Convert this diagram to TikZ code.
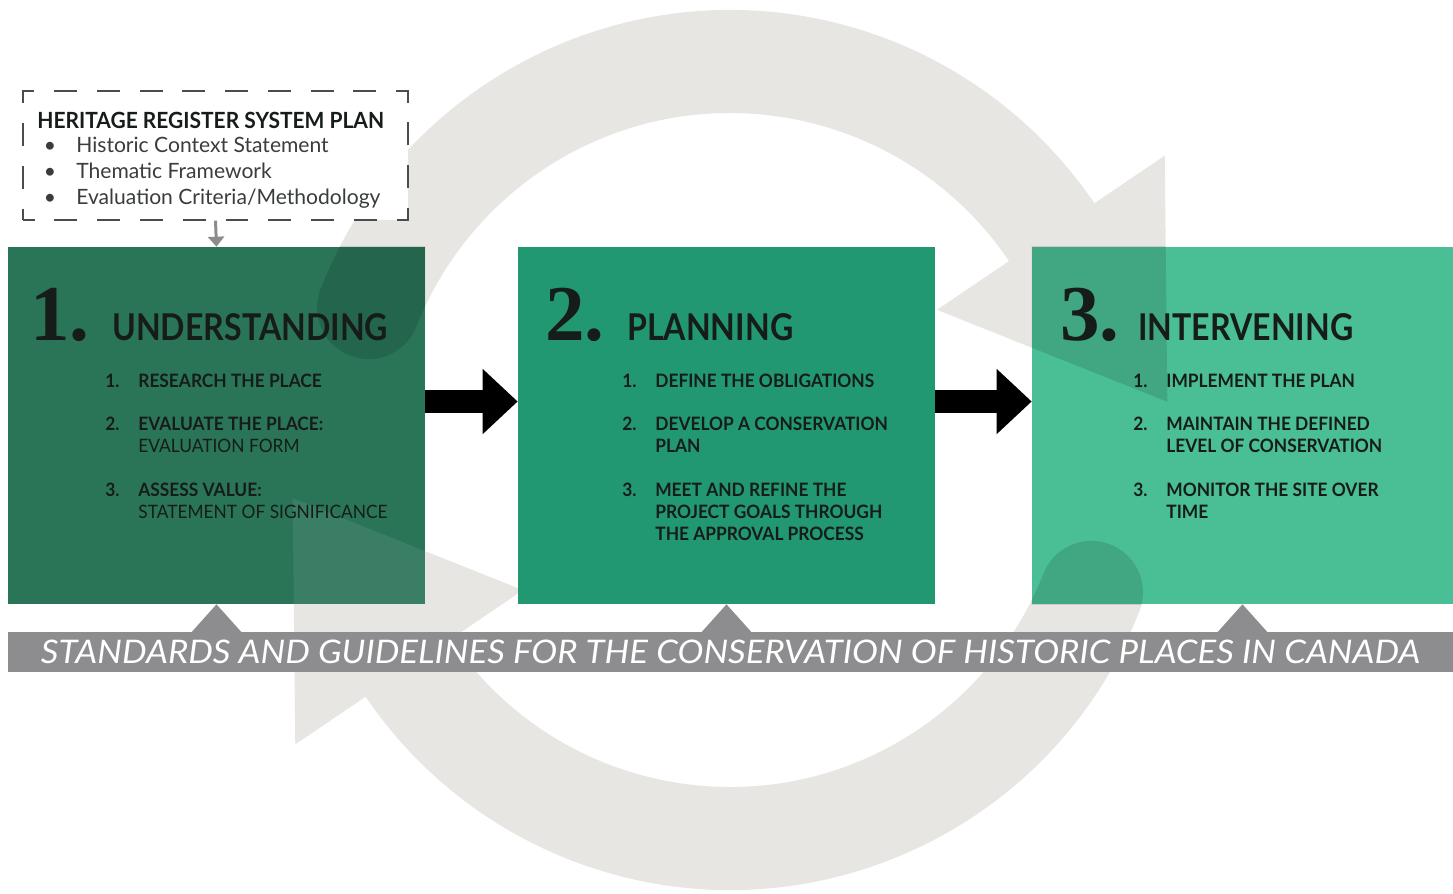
\documentclass[tikz,border=0pt]{standalone}
\usepackage{fontspec}
\setmainfont{Lato}
\newfontfamily\numfont{Liberation Serif}
\newfontfamily\titlefont[FakeStretch=0.87]{Lato}
\newfontfamily\itemfont[FakeStretch=0.94]{Lato}
\usetikzlibrary{arrows.meta}

\definecolor{stageone}{RGB}{42,117,88}
\definecolor{stagetwo}{RGB}{33,152,113}
\definecolor{stagethree}{RGB}{74,190,148}
\definecolor{ringgray}{RGB}{232,230,227}
\definecolor{bargray}{RGB}{141,141,144}
\definecolor{ink}{RGB}{22,28,25}

\tikzset{
  ringarrow/.style={insert path={(-158.5:440) arc[start angle=-158.5, end angle=-34.1, radius=440]
      -- (-34.1:525) -- (-6.3:440) -- (-34.1:250) -- (-34.1:337)
      arc[start angle=-34.1, end angle=-158.5, radius=337]
      arc[start angle=21.5, end angle=201.5, radius=51.5] -- cycle}},
}

\begin{document}
\begin{tikzpicture}[x=0.02cm, y=-0.02cm,
    stage/.style={rectangle, inner sep=0pt, minimum height=7.14cm},
    bignum/.style={anchor=base west, inner sep=0pt, text=ink, font=\numfont\bfseries\fontsize{45}{45}\selectfont},
    stagename/.style={anchor=base west, inner sep=0pt, text=ink, font=\titlefont\bfseries\fontsize{21}{21}\selectfont},
    stepitem/.style={anchor=base west, inner sep=0pt, text=ink, align=left, font=\itemfont\bfseries\fontsize{10.5}{12.5}\selectfont},
    planline/.style={anchor=base west, inner sep=0pt, text=ink!85, font=\fontsize{12}{12}\selectfont},
    blockarrow/.style={line width=0.46cm, -{Triangle[length=0.7cm, width=1.26cm]}},
  ]

  \path[use as bounding box, fill=white] (0,0) rectangle (1453,893);

  % circular arrows in the background
  \begin{scope}[shift={(730,450)}]
    \fill[ringgray, ringarrow];
    \fill[ringgray, rotate=180, ringarrow];
  \end{scope}

  % the three stages
  \node[stage, fill=stageone, minimum width=8.34cm] (box1) at (216.5,425.5) {};
  \node[stage, fill=stagetwo, minimum width=8.34cm] (box2) at (726.5,425.5) {};
  \node[stage, fill=stagethree, minimum width=8.42cm] (box3) at (1242.5,425.5) {};

  % ring seen through the boxes
  \begin{scope}
    \clip (box1.north west) rectangle (box1.south east);
    \fill[black, opacity=0.12, shift={(730,450)}, ringarrow];
    \fill[white, opacity=0.08, shift={(730,450)}, rotate=180, ringarrow];
  \end{scope}
  \begin{scope}
    \clip (box3.north west) rectangle (box3.south east);
    \fill[black, opacity=0.12, shift={(730,450)}, ringarrow];
    \fill[black, opacity=0.12, shift={(730,450)}, rotate=180, ringarrow];
  \end{scope}

  \draw[blockarrow] ([yshift=0.48cm]box1.east) -- ([yshift=0.48cm]box2.west);
  \draw[blockarrow] ([yshift=0.48cm]box2.east) -- ([yshift=0.48cm]box3.west);

  % standards bar
  \foreach \b in {box1,box2,box3}
    \fill[bargray] (\b.south) -- ([xshift=-0.52cm, yshift=-0.58cm]\b.south) -- ([xshift=0.52cm, yshift=-0.58cm]\b.south) -- cycle;
  \node[fill=bargray, minimum width=28.9cm, minimum height=0.8cm, inner sep=0pt, text=white,
        font=\itshape\fontsize{18.5}{18.5}\selectfont] (bar) at (730.5,652)
        {\scalebox{1.07}[1]{STANDARDS AND GUIDELINES FOR THE CONSERVATION OF HISTORIC PLACES IN CANADA}};

  % register plan
  \node[draw=black!70, line width=1.1pt, dash pattern=on 0.46cm off 0.396cm, dash phase=0.23cm,
        fill=white, minimum width=7.7cm, minimum height=2.568cm, inner sep=0pt] (plan) at (215.5,155.5) {};
  \draw[black!45, line width=0.06cm, -{Triangle[length=0.2cm, width=0.32cm]}] (plan.south) -- (box1.north);
  \node[anchor=base west, inner sep=0pt, text=ink, font=\itemfont\bfseries\fontsize{12.7}{12.7}\selectfont] (plantitle) at (37,128) {HERITAGE REGISTER SYSTEM PLAN};
  \foreach \i/\y/\txt in {1/152/{Historic Context Statement}, 2/178/{Thematic Framework}, 3/204/{Evaluation Criteria/Methodology}} {
    \node[planline, anchor=base] (dot\i) at (50,\y) {\textbullet};
    \node[planline] (plan\i) at (76,\y) {\txt};
  }

  % stage texts
  \node[bignum] (num1) at (30,340) {1.};
  \node[stagename] (name1) at (112,340) {UNDERSTANDING};
  \node[bignum] (num2) at (545,340) {2.};
  \node[stagename] (name2) at (627,340) {PLANNING};
  \node[bignum] (num3) at (1060,340) {3.};
  \node[stagename] (name3) at (1138,340) {INTERVENING};

  \foreach \x in {105,622,1133}
    \foreach \k/\y in {1/387,2/430,3/496}
      \node[stepitem] (k\x\k) at (\x,\y) {\k.};

  % multi-line nodes sit on their last line
  \node[stepitem] (s1a) at (138,387) {RESEARCH THE PLACE};
  \node[stepitem] (s1b) at (138,452) {EVALUATE THE PLACE:\\\mdseries EVALUATION FORM};
  \node[stepitem] (s1c) at (138,518) {ASSESS VALUE:\\\mdseries STATEMENT OF SIGNIFICANCE};

  \node[stepitem] (s2a) at (655,387) {DEFINE THE OBLIGATIONS};
  \node[stepitem] (s2b) at (655,452) {DEVELOP A CONSERVATION\\PLAN};
  \node[stepitem] (s2c) at (655,540) {MEET AND REFINE THE\\PROJECT GOALS THROUGH\\THE APPROVAL PROCESS};

  \node[stepitem] (s3a) at (1166,387) {IMPLEMENT THE PLAN};
  \node[stepitem] (s3b) at (1166,452) {MAINTAIN THE DEFINED\\LEVEL OF CONSERVATION};
  \node[stepitem] (s3c) at (1166,518) {MONITOR THE SITE OVER\\TIME};

\end{tikzpicture}
\end{document}
